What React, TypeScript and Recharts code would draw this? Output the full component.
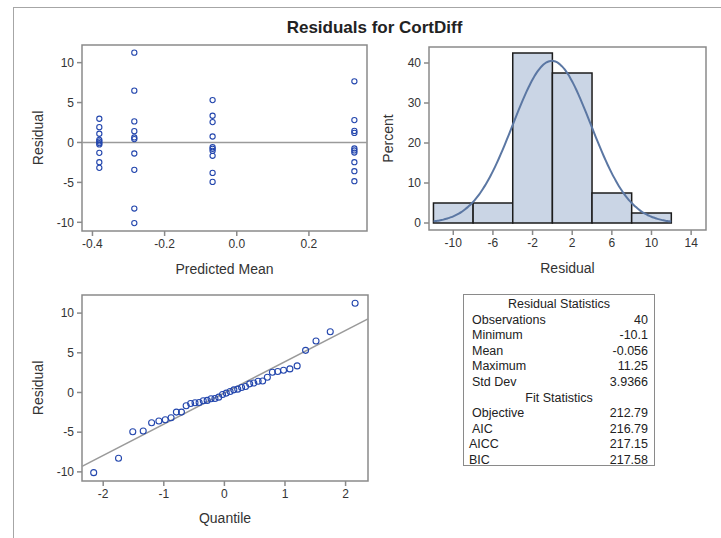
import React from 'react';
import {
  ScatterChart,
  Scatter,
  ComposedChart,
  Line,
  XAxis,
  YAxis,
  ReferenceLine,
  ReferenceArea,
} from 'recharts';

// predicted mean per group and the residuals
const predictedMeans = [-0.381, -0.284, -0.067, 0.326];
const group1Residuals = [2.97, 1.92, 1.09, 0.33, 0.13, -0.08, -0.25, -1.3, -2.47, -3.18];
const group2Residuals = [11.25, 6.49, 2.64, 1.42, 0.63, 0.42, -1.38, -3.43, -8.28, -10.1];
const group3Residuals = [5.31, 3.35, 2.55, 0.75, -0.59, -0.79, -1.05, -1.67, -3.81, -4.94];
const group4Residuals = [7.66, 2.8, 1.45, 1.2, -0.75, -1.0, -1.26, -2.47, -3.6, -4.85];

// normal quantiles of the 40 ordered residuals
const normalQuantiles = [
  -2.157, -1.747, -1.512, -1.34, -1.201, -1.081, -0.976, -0.88, -0.792, -0.709,
  -0.631, -0.557, -0.485, -0.417, -0.349, -0.284, -0.22, -0.156, -0.094, -0.031,
  0.031, 0.094, 0.156, 0.22, 0.284, 0.349, 0.417, 0.485, 0.557, 0.631,
  0.709, 0.792, 0.88, 0.976, 1.081, 1.201, 1.34, 1.512, 1.747, 2.157,
];

// histogram bins
const binStarts = [-12, -8, -4, 0, 4, 8];
const binPercents = [5, 5, 42.5, 37.5, 7.5, 2.5];
const binWidth = 4;

const residualStatLabels = ['Observations', 'Minimum', 'Mean', 'Maximum', 'Std Dev'];
const residualStatValues = ['40', '-10.1', '-0.056', '11.25', '3.9366'];
const fitStatLabels = ['Objective', 'AIC', 'AICC', 'BIC'];
const fitStatValues = ['212.79', '216.79', '217.15', '217.58'];

const residualMean = -0.056;
const residualStd = 3.9366;

const meanTicks = [-0.4, -0.2, 0, 0.2];
const residualTicks = [-10, -5, 0, 5, 10];
const histTicks = [-10, -6, -2, 2, 6, 10, 14];
const percentTicks = [0, 10, 20, 30, 40];
const quantileTicks = [-2, -1, 0, 1, 2];

const groups = [group1Residuals, group2Residuals, group3Residuals, group4Residuals];
const scatterData = groups.flatMap((g, i) => g.map((r) => ({ x: predictedMeans[i], y: r })));
const sortedResiduals = groups.flat().sort((a, b) => a - b);
const qqData = sortedResiduals.map((r, i) => ({ x: normalQuantiles[i], y: r }));

// fitted normal density, scaled to percent per bin
const curveData: { x: number; y: number }[] = [];
for (let x = -12; x <= 12.001; x += 0.2) {
  const z = (x - residualMean) / residualStd;
  curveData.push({
    x,
    y: (binWidth * 100 * Math.exp(-0.5 * z * z)) / (residualStd * Math.sqrt(2 * Math.PI)),
  });
}

const FRAME = '#8a8a8a';
const tickStyle = { fontSize: 12, fill: '#333' };
const labelStyle = { fontSize: 14, fill: '#333' };
const tickLine = { stroke: FRAME, strokeWidth: 1.5 };

const meanDomain: [number, number] = [-0.429, 0.361];
const scatterResDomain: [number, number] = [-11.09, 12.21];
const histDomain: [number, number] = [-12.45, 15.5];
const percentDomain: [number, number] = [-1.75, 44];
const quantileDomain: [number, number] = [-2.35, 2.37];
const qqResDomain: [number, number] = [-11.15, 12.28];

const makeCircle = (r: number) => (props: any) => (
  <circle cx={props.cx} cy={props.cy} r={r} fill="none" stroke="#2346ad" strokeWidth={1.1} />
);

const App = () => {
  return (
    <div
      style={{
        position: 'absolute',
        left: 0,
        top: 0,
        width: 721,
        height: 538,
        overflow: 'hidden',
        background: '#fff',
        fontFamily: '"Liberation Sans", Arial, sans-serif',
        color: '#222',
      }}
    >
      <div
        style={{
          position: 'absolute',
          left: 13,
          top: 7,
          width: 780,
          height: 600,
          border: '1px solid #a6a6a6',
        }}
      />
      <div
        style={{
          position: 'absolute',
          left: 0,
          top: 18,
          width: 749,
          textAlign: 'center',
          fontSize: 17,
          fontWeight: 'bold',
        }}
      >
        Residuals for CortDiff
      </div>

      {/* residual vs predicted mean */}
      <div style={{ position: 'absolute', left: 20, top: 40 }}>
        <ScatterChart width={360} height={250} margin={{ top: 5, right: 13, bottom: 0, left: 0 }}>
          <XAxis
            type="number"
            dataKey="x"
            domain={meanDomain}
            allowDataOverflow
            ticks={meanTicks}
            tickFormatter={(v: number) => v.toFixed(1)}
            height={59}
            axisLine={false}
            tickLine={tickLine}
            tickSize={5}
            tickMargin={3}
            tick={tickStyle}
            label={{ value: 'Predicted Mean', position: 'insideBottom', offset: 16, style: labelStyle }}
          />
          <YAxis
            type="number"
            dataKey="y"
            domain={scatterResDomain}
            allowDataOverflow
            ticks={residualTicks}
            width={62}
            axisLine={false}
            tickLine={tickLine}
            tickSize={5}
            tickMargin={3}
            tick={tickStyle}
            label={{
              value: 'Residual',
              angle: -90,
              position: 'insideLeft',
              offset: 18,
              style: { ...labelStyle, textAnchor: 'middle' },
            }}
          />
          <ReferenceLine y={0} stroke="#9a9a9a" strokeWidth={1.5} />
          <ReferenceArea
            x1={meanDomain[0]}
            x2={meanDomain[1]}
            y1={scatterResDomain[0]}
            y2={scatterResDomain[1]}
            fill="none"
            stroke={FRAME}
            strokeWidth={1.5}
            ifOverflow="visible"
          />
          <Scatter data={scatterData} shape={makeCircle(2.6)} isAnimationActive={false} />
        </ScatterChart>
      </div>

      {/* histogram with normal curve */}
      <div style={{ position: 'absolute', left: 375, top: 40 }}>
        <ComposedChart width={346} height={250} margin={{ top: 7, right: 15, bottom: 0, left: 0 }}>
          <XAxis
            type="number"
            dataKey="x"
            domain={histDomain}
            allowDataOverflow
            ticks={histTicks}
            height={60}
            axisLine={false}
            tickLine={tickLine}
            tickSize={5}
            tickMargin={3}
            tick={tickStyle}
            label={{ value: 'Residual', position: 'insideBottom', offset: 17, style: labelStyle }}
          />
          <YAxis
            type="number"
            dataKey="y"
            domain={percentDomain}
            allowDataOverflow
            ticks={percentTicks}
            width={54}
            axisLine={false}
            tickLine={tickLine}
            tickSize={5}
            tickMargin={3}
            tick={tickStyle}
            label={{
              value: 'Percent',
              angle: -90,
              position: 'insideLeft',
              offset: 13,
              style: { ...labelStyle, textAnchor: 'middle' },
            }}
          />
          {binStarts.map((b, i) => (
            <ReferenceArea
              key={b}
              x1={b}
              x2={b + binWidth}
              y1={0}
              y2={binPercents[i]}
              fill="#cad5e5"
              fillOpacity={1}
              stroke="#1c1c1c"
              strokeWidth={1.5}
              ifOverflow="visible"
            />
          ))}
          <ReferenceArea
            x1={histDomain[0]}
            x2={histDomain[1]}
            y1={percentDomain[0]}
            y2={percentDomain[1]}
            fill="none"
            stroke={FRAME}
            strokeWidth={1.5}
            ifOverflow="visible"
          />
          <Line
            data={curveData}
            dataKey="y"
            type="monotone"
            stroke="#5b77a3"
            strokeWidth={2}
            dot={false}
            isAnimationActive={false}
          />
        </ComposedChart>
      </div>

      {/* Q-Q plot */}
      <div style={{ position: 'absolute', left: 20, top: 290 }}>
        <ScatterChart width={360} height={250} margin={{ top: 5, right: 12, bottom: 0, left: 0 }}>
          <XAxis
            type="number"
            dataKey="x"
            domain={quantileDomain}
            allowDataOverflow
            ticks={quantileTicks}
            height={59}
            axisLine={false}
            tickLine={tickLine}
            tickSize={5}
            tickMargin={3}
            tick={tickStyle}
            label={{ value: 'Quantile', position: 'insideBottom', offset: 17, style: labelStyle }}
          />
          <YAxis
            type="number"
            dataKey="y"
            domain={qqResDomain}
            allowDataOverflow
            ticks={residualTicks}
            width={62}
            axisLine={false}
            tickLine={tickLine}
            tickSize={5}
            tickMargin={3}
            tick={tickStyle}
            label={{
              value: 'Residual',
              angle: -90,
              position: 'insideLeft',
              offset: 18,
              style: { ...labelStyle, textAnchor: 'middle' },
            }}
          />
          <ReferenceLine
            segment={[
              { x: quantileDomain[0], y: residualMean + residualStd * quantileDomain[0] },
              { x: quantileDomain[1], y: residualMean + residualStd * quantileDomain[1] },
            ]}
            stroke="#9a9a9a"
            strokeWidth={1.5}
          />
          <ReferenceArea
            x1={quantileDomain[0]}
            x2={quantileDomain[1]}
            y1={qqResDomain[0]}
            y2={qqResDomain[1]}
            fill="none"
            stroke={FRAME}
            strokeWidth={1.5}
            ifOverflow="visible"
          />
          <Scatter data={qqData} shape={makeCircle(3)} isAnimationActive={false} />
        </ScatterChart>
      </div>

      {/* statistics table */}
      <div
        style={{
          position: 'absolute',
          left: 463,
          top: 294,
          width: 192,
          height: 172,
          border: '1px solid #8a8a8a',
          fontSize: 12.5,
          lineHeight: '15.6px',
          paddingTop: 2,
          boxSizing: 'border-box',
        }}
      >
        <div style={{ textAlign: 'center' }}>Residual Statistics</div>
        {residualStatLabels.map((l, i) => (
          <div key={l} style={{ display: 'flex', justifyContent: 'space-between', padding: '0 6px 0 8px' }}>
            <span>{l}</span>
            <span>{residualStatValues[i]}</span>
          </div>
        ))}
        <div style={{ textAlign: 'center' }}>Fit Statistics</div>
        {fitStatLabels.map((l, i) => (
          <div
            key={l}
            style={{
              display: 'flex',
              justifyContent: 'space-between',
              padding: `0 6px 0 ${i >= 2 ? 5 : 8}px`,
            }}
          >
            <span>{l}</span>
            <span>{fitStatValues[i]}</span>
          </div>
        ))}
      </div>
    </div>
  );
};

export default App;
